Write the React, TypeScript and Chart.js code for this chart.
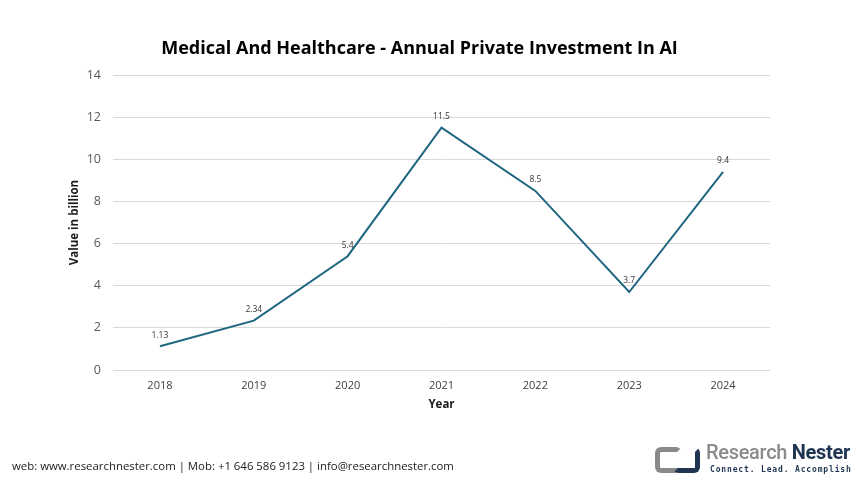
import React, { useEffect, useRef } from "react";
import { Chart, registerables } from "chart.js";

Chart.register(...registerables);

const years = ["2018", "2019", "2020", "2021", "2022", "2023", "2024"];
const investment = [1.13, 2.34, 5.4, 11.5, 8.5, 3.7, 9.4];
const valueLabels = ["1.13", "2.34", "5.4", "11.5", "8.5", "3.7", "9.4"];
const yTicks = [0, 2, 4, 6, 8, 10, 12, 14];

const chartTitle = "Medical And Healthcare - Annual Private Investment In AI";
const footerText = "web: www.researchnester.com | Mob: +1 646 586 9123 | info@researchnester.com";

const FONT = "'Open Sans', 'DejaVu Sans', sans-serif";

const labelPlugin = {
  id: "valueLabels",
  afterDatasetsDraw(chart: any) {
    const ctx = chart.ctx;
    const meta = chart.getDatasetMeta(0);
    ctx.save();
    ctx.font = `8.5px ${FONT}`;
    ctx.fillStyle = "#333333";
    ctx.textAlign = "center";
    ctx.textBaseline = "middle";
    meta.data.forEach((pt: any, i: number) => {
      ctx.fillText(valueLabels[i], pt.x, pt.y - 11);
    });
    ctx.restore();
  },
};

export default function App() {
  const ref = useRef<HTMLCanvasElement | null>(null);

  useEffect(() => {
    if (!ref.current) return;
    const chart = new Chart(ref.current, {
      type: "line",
      data: {
        labels: years,
        datasets: [
          {
            data: investment,
            borderColor: "#1f6680",
            borderWidth: 2,
            pointRadius: 0,
            tension: 0,
            fill: false,
          },
        ],
      },
      options: {
        animation: false,
        responsive: false,
        maintainAspectRatio: false,
        layout: { padding: { left: 68, right: 92, top: 75, bottom: 73 } },
        plugins: {
          legend: { display: false },
          tooltip: { enabled: false },
          title: { display: false },
        },
        scales: {
          x: {
            offset: true,
            grid: { display: false, drawTicks: false },
            border: { display: false },
            ticks: {
              color: "#404040",
              font: { family: FONT, size: 11 },
              padding: 9,
              maxRotation: 0,
            },
            title: {
              display: true,
              text: "Year",
              color: "#1a1a1a",
              font: { family: FONT, size: 11.5, weight: "bold" },
              padding: 0,
            },
            afterFit(scale: any) {
              scale.height = 42;
            },
          },
          y: {
            min: 0,
            max: 14,
            afterBuildTicks(scale: any) {
              scale.ticks = yTicks.map((v) => ({ value: v }));
            },
            grid: { color: "#d9d9d9", lineWidth: 1, drawTicks: false },
            border: { display: false },
            ticks: {
              color: "#595959",
              font: { family: FONT, size: 12.5 },
              padding: 12,
            },
            title: {
              display: true,
              text: "Value in billion",
              color: "#1a1a1a",
              font: { family: FONT, size: 11.5, weight: "bold" },
              padding: 0,
            },
            afterFit(scale: any) {
              scale.width = 45;
            },
          },
        },
      },
      plugins: [labelPlugin],
    });
    return () => chart.destroy();
  }, []);

  return (
    <div
      style={{
        position: "absolute",
        left: 0,
        top: 0,
        width: 862,
        height: 485,
        background: "#ffffff",
        overflow: "hidden",
        fontFamily: FONT,
      }}
    >
      <canvas ref={ref} width={862} height={485} style={{ position: "absolute", left: 0, top: 0 }} />
      <div
        style={{
          position: "absolute",
          left: 0,
          width: 839,
          top: 35,
          textAlign: "center",
          fontSize: 18,
          fontWeight: 700,
          color: "#000",
          whiteSpace: "nowrap",
        }}
      >
        {chartTitle}
      </div>
      <div
        style={{
          position: "absolute",
          left: 12,
          top: 458,
          fontSize: 11.4,
          color: "#1a1a1a",
          whiteSpace: "nowrap",
        }}
      >
        {footerText}
      </div>
      {/* logo */}
      <div
        style={{
          position: "absolute",
          left: 655,
          top: 447,
          width: 17,
          height: 16,
          border: "5px solid #8a8a8a",
          borderRightColor: "transparent",
          borderRadius: 6,
        }}
      />
      <div
        style={{
          position: "absolute",
          left: 673,
          top: 447,
          width: 17,
          height: 16,
          border: "5px solid #1e3450",
          borderLeftColor: "transparent",
          borderTopColor: "transparent",
          borderRadius: 6,
        }}
      />
      <div
        style={{
          position: "absolute",
          left: 706,
          top: 440,
          fontSize: 20,
          fontWeight: 700,
          whiteSpace: "nowrap",
          fontFamily: "'Liberation Sans Narrow', 'Roboto', sans-serif",
          letterSpacing: -0.3,
        }}
      >
        <span style={{ color: "#8a8a8a", fontWeight: 500 }}>Research </span>
        <span style={{ color: "#1e3450" }}>Nester</span>
      </div>
      <div
        style={{
          position: "absolute",
          left: 710,
          top: 465,
          fontSize: 8,
          fontWeight: 700,
          color: "#1e3450",
          whiteSpace: "nowrap",
          fontFamily: "'DejaVu Sans Mono', monospace",
          letterSpacing: 0.85,
        }}
      >
        Connect. Lead. Accomplish
      </div>
    </div>
  );
}
